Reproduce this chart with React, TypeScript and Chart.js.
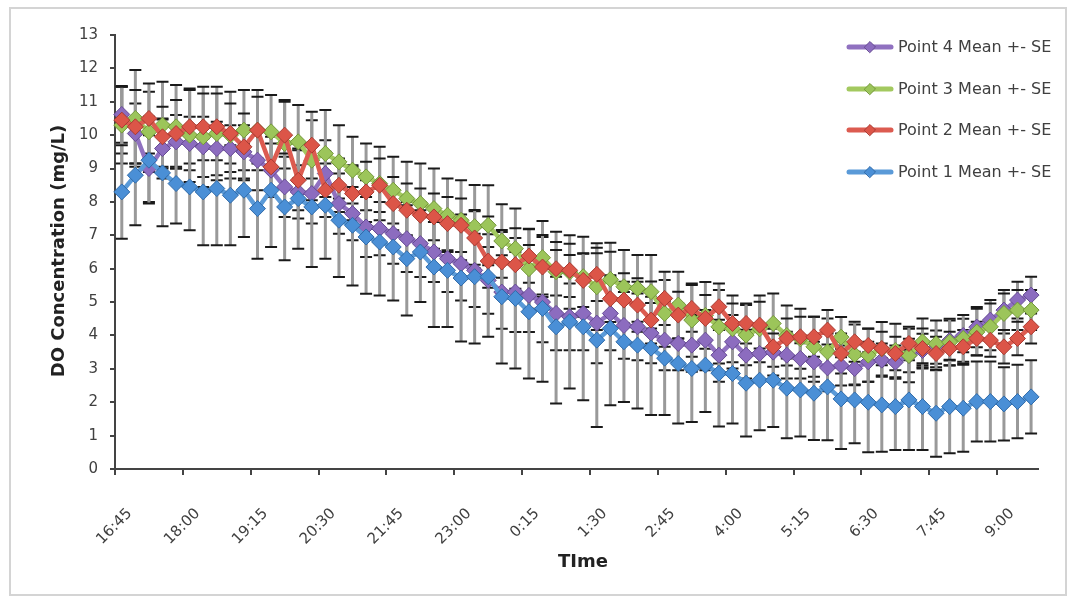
import React, { useEffect, useRef } from "react";
import { Chart, registerables } from "chart.js";

Chart.register(...registerables);

const timeLabels = [
  "16:45", "17:00", "17:15", "17:30", "17:45", "18:00", "18:15", "18:30", "18:45", "19:00",
  "19:15", "19:30", "19:45", "20:00", "20:15", "20:30", "20:45", "21:00", "21:15", "21:30",
  "21:45", "22:00", "22:15", "22:30", "22:45", "23:00", "23:15", "23:30", "23:45", "0:00",
  "0:15", "0:30", "0:45", "1:00", "1:15", "1:30", "1:45", "2:00", "2:15", "2:30",
  "2:45", "3:00", "3:15", "3:30", "3:45", "4:00", "4:15", "4:30", "4:45", "5:00",
  "5:15", "5:30", "5:45", "6:00", "6:15", "6:30", "6:45", "7:00", "7:15", "7:30",
  "7:45", "8:00", "8:15", "8:30", "8:45", "9:00", "9:15", "9:30",
];

const point1Mean = [
  8.3, 8.8, 9.25, 8.87, 8.55, 8.45, 8.3, 8.4, 8.2, 8.35,
  7.8, 8.35, 7.85, 8.1, 7.85, 7.9, 7.45, 7.3, 6.95, 6.8,
  6.65, 6.3, 6.5, 6.05, 5.95, 5.72, 5.76, 5.76, 5.16, 5.11,
  4.71, 4.81, 4.26, 4.41, 4.26, 3.86, 4.21, 3.81, 3.71, 3.62,
  3.32, 3.16, 3.01, 3.11, 2.87, 2.86, 2.57, 2.66, 2.66, 2.42,
  2.37, 2.27, 2.46, 2.1, 2.07, 2.0, 1.92, 1.87, 2.07, 1.87,
  1.67, 1.87, 1.82, 2.02, 2.02, 1.95, 2.02, 2.16,
];
const point1SE = [
  1.4, 1.5, 1.3, 1.6, 1.2, 1.3, 1.6, 1.7, 1.5, 1.4,
  1.5, 1.7, 1.6, 1.5, 1.8, 1.6, 1.7, 1.8, 1.7, 1.6,
  1.6, 1.7, 1.5, 1.8, 1.7, 1.9, 2.0, 1.8, 2.0, 2.1,
  2.0, 2.2, 2.3, 2.0, 2.2, 2.6, 2.3, 1.8, 1.9, 2.0,
  1.7, 1.8, 1.6, 1.4, 1.6, 1.5, 1.6, 1.5, 1.4, 1.5,
  1.4, 1.4, 1.6, 1.5, 1.3, 1.5, 1.4, 1.3, 1.5, 1.3,
  1.3, 1.4, 1.3, 1.2, 1.2, 1.1, 1.1, 1.1,
];

const point2Mean = [
  10.45, 10.25, 10.5, 9.95, 10.05, 10.25, 10.25, 10.25, 10.05, 9.65,
  10.15, 9.05, 10.0, 8.65, 9.7, 8.35, 8.5, 8.25, 8.3, 8.5,
  7.95, 7.75, 7.6, 7.55, 7.35, 7.3, 6.92, 6.23, 6.2, 6.12,
  6.38, 6.05, 6.0, 5.95, 5.65, 5.83, 5.1, 5.06, 4.91, 4.46,
  5.11, 4.61, 4.81, 4.51, 4.86, 4.36, 4.36, 4.31, 3.66, 3.91,
  3.96, 3.96, 4.16, 3.46, 3.81, 3.7, 3.61, 3.46, 3.76, 3.61,
  3.46, 3.61, 3.66, 3.91, 3.86, 3.66, 3.91, 4.26,
];
const point2SE = [
  1.0, 1.1, 1.05, 0.9, 1.0, 1.1, 1.0, 1.0, 0.9, 1.0,
  1.0, 0.9, 1.0, 0.9, 1.0, 0.8, 0.8, 0.8, 0.9, 0.8,
  0.8, 0.8, 0.8, 0.7, 0.8, 0.8, 0.8, 0.8, 0.9, 0.8,
  0.8, 0.9, 0.8, 0.8, 0.8, 0.8, 0.7, 0.8, 0.8, 0.7,
  0.8, 0.7, 0.7, 0.7, 0.7, 0.6, 0.6, 0.7, 0.6, 0.6,
  0.6, 0.6, 0.6, 0.6, 0.6, 0.5, 0.5, 0.5, 0.5, 0.6,
  0.5, 0.5, 0.5, 0.5, 0.5, 0.5, 0.5, 0.5,
];

const point3Mean = [
  10.3, 10.5, 10.1, 10.3, 10.25, 10.0, 9.95, 10.05, 10.0, 10.15,
  10.15, 10.1, 9.75, 9.8, 9.25, 9.45, 9.2, 8.95, 8.75, 8.55,
  8.35, 8.1, 7.95, 7.8, 7.6, 7.45, 7.26, 7.3, 6.83, 6.6,
  6.0, 6.33, 5.91, 5.9, 5.76, 5.46, 5.68, 5.46, 5.41, 5.31,
  4.66, 4.91, 4.46, 4.6, 4.26, 4.2, 4.01, 4.2, 4.36, 4.0,
  3.9, 3.66, 3.51, 3.95, 3.43, 3.41, 3.6, 3.55, 3.4, 3.81,
  3.75, 3.8, 3.91, 4.1, 4.26, 4.66, 4.76, 4.76,
];
const point3SE = [
  1.15, 1.45, 1.2, 1.3, 1.25, 1.4, 1.5, 1.4, 1.3, 1.2,
  1.2, 1.1, 1.3, 1.1, 1.2, 1.3, 1.1, 1.0, 1.0, 1.1,
  1.0, 1.1, 1.2, 1.2, 1.1, 1.2, 1.25, 1.2, 1.1, 1.2,
  1.2, 1.1, 1.2, 1.1, 1.2, 1.3, 1.1, 1.1, 1.0, 1.1,
  1.0, 1.0, 1.1, 1.0, 1.1, 1.0, 0.9, 1.0, 0.9, 0.9,
  0.9, 0.9, 1.0, 0.6, 0.9, 0.8, 0.8, 0.8, 0.8, 0.7,
  0.7, 0.7, 0.7, 0.7, 0.7, 0.6, 0.6, 0.6,
];

const point4Mean = [
  10.62, 10.05, 9.0, 9.6, 9.8, 9.75, 9.65, 9.6, 9.6, 9.5,
  9.25, 8.95, 8.45, 8.3, 8.25, 8.85, 7.95, 7.65, 7.25, 7.2,
  7.05, 6.9, 6.75, 6.5, 6.3, 6.15, 5.95, 5.65, 5.3, 5.3,
  5.2, 5.0, 4.66, 4.56, 4.66, 4.37, 4.66, 4.3, 4.26, 4.07,
  3.86, 3.76, 3.71, 3.86, 3.41, 3.81, 3.41, 3.46, 3.5, 3.41,
  3.31, 3.21, 3.03, 3.1, 3.01, 3.21, 3.26, 3.2, 3.4, 3.55,
  3.65, 3.85, 4.0, 4.25, 4.46, 4.76, 5.06, 5.21,
];
const point4SE = [
  0.85, 0.9, 1.0, 0.9, 0.8, 0.8, 0.9, 0.8, 0.7, 0.8,
  0.9, 0.8, 0.9, 0.8, 0.9, 1.0, 0.9, 0.8, 0.9, 0.8,
  0.9, 1.0, 1.0, 0.9, 1.0, 1.1, 1.1, 1.0, 1.1, 1.2,
  1.1, 1.2, 1.1, 1.0, 1.1, 1.2, 1.1, 1.0, 1.0, 0.9,
  0.9, 0.8, 0.8, 0.9, 0.8, 0.8, 0.7, 0.8, 0.7, 0.7,
  0.6, 0.6, 0.7, 0.6, 0.5, 0.6, 0.5, 0.5, 0.5, 0.5,
  0.5, 0.6, 0.5, 0.6, 0.6, 0.6, 0.55, 0.55,
];

const seriesNames = [
  "Point 1 Mean +- SE",
  "Point 2 Mean +- SE",
  "Point 3 Mean +- SE",
  "Point 4 Mean +- SE",
];
const yTicks = [0, 1, 2, 3, 4, 5, 6, 7, 8, 9, 10, 11, 12, 13];
const xTitle = "TIme";
const yTitle = "DO Concentration (mg/L)";

const W = 1074;
const H = 601;

export default function App() {
  const ref = useRef<HTMLCanvasElement>(null);

  useEffect(() => {
    if (!ref.current) return;
    const styles = [
      { line: "#5a9ad8", fill: "#4a8fd6", border: "#2f6aa8" },
      { line: "#dc5b50", fill: "#dc5548", border: "#a83a31" },
      { line: "#a3c95f", fill: "#9cc55a", border: "#73973a" },
      { line: "#9071c0", fill: "#8c6cbf", border: "#654a93" },
    ];
    const means = [point1Mean, point2Mean, point3Mean, point4Mean];
    const ses = [point1SE, point2SE, point3SE, point4SE];

    const errorBars = {
      id: "errorBars",
      beforeDatasetsDraw(chart: any) {
        const ctx = chart.ctx;
        const ys = chart.scales.y;
        ctx.save();
        for (let d = chart.data.datasets.length - 1; d >= 0; d--) {
          const meta = chart.getDatasetMeta(d);
          const vals = means[d];
          const se = ses[d];
          meta.data.forEach((pt: any, i: number) => {
            const x = pt.x;
            const top = ys.getPixelForValue(vals[i] + se[i]);
            const bot = ys.getPixelForValue(Math.max(0, vals[i] - se[i]));
            ctx.strokeStyle = "#999999";
            ctx.lineWidth = 3;
            ctx.beginPath();
            ctx.moveTo(x, top);
            ctx.lineTo(x, bot);
            ctx.stroke();
            ctx.strokeStyle = "#1a1a1a";
            ctx.lineWidth = 2;
            ctx.beginPath();
            ctx.moveTo(x - 6, top);
            ctx.lineTo(x + 6, top);
            ctx.moveTo(x - 6, bot);
            ctx.lineTo(x + 6, bot);
            ctx.stroke();
          });
        }
        ctx.restore();
      },
    };

    const decor = {
      id: "decor",
      afterDraw(chart: any) {
        const ctx = chart.ctx;
        ctx.save();
        ctx.fillStyle = "#222";
        ctx.font = "bold 18px 'DejaVu Sans'";
        ctx.textAlign = "center";
        ctx.textBaseline = "middle";
        ctx.fillText(xTitle, 583, 562);
        ctx.translate(59, 251);
        ctx.rotate(-Math.PI / 2);
        ctx.fillText(yTitle, 0, 0);
        ctx.restore();

        ctx.save();
        const ys = [47, 89, 130, 172];
        for (let k = 0; k < 4; k++) {
          const s = 3 - k;
          const y = ys[k];
          ctx.strokeStyle = styles[s].line;
          ctx.lineWidth = 5;
          ctx.lineCap = "round";
          ctx.beginPath();
          ctx.moveTo(849, y);
          ctx.lineTo(891, y);
          ctx.stroke();
          ctx.fillStyle = styles[s].fill;
          ctx.strokeStyle = styles[s].border;
          ctx.lineWidth = 1;
          ctx.beginPath();
          ctx.moveTo(870 - 5.5, y);
          ctx.lineTo(870, y - 5.5);
          ctx.lineTo(870 + 5.5, y);
          ctx.lineTo(870, y + 5.5);
          ctx.closePath();
          ctx.fill();
          ctx.stroke();
          ctx.fillStyle = "#404040";
          ctx.font = "16px 'DejaVu Sans'";
          ctx.textAlign = "left";
          ctx.textBaseline = "middle";
          ctx.fillText(seriesNames[s], 898, y + 1);
        }
        ctx.restore();
      },
    };

    const chart = new Chart(ref.current, {
      type: "line",
      data: {
        labels: timeLabels,
        datasets: means.map((m, i) => ({
          label: seriesNames[i],
          data: m,
          borderColor: styles[i].line,
          backgroundColor: styles[i].fill,
          pointBackgroundColor: styles[i].fill,
          pointBorderColor: styles[i].border,
          pointBorderWidth: 1,
          pointStyle: "rectRot",
          pointRadius: 8,
          borderWidth: 4.5,
          tension: 0,
          fill: false,
        })),
      },
      options: {
        responsive: false,
        animation: false,
        devicePixelRatio: 1,
        layout: { padding: { left: 0, right: 26, top: 35, bottom: 0 } },
        plugins: { legend: { display: false }, tooltip: { enabled: false } },
        scales: {
          x: {
            type: "category",
            offset: true,
            grid: {
              offset: true,
              drawOnChartArea: false,
              drawTicks: true,
              tickLength: 6,
              lineWidth: 2,
              color: (c: any) => (c.index % 5 === 0 ? "#444" : "rgba(0,0,0,0)"),
            },
            border: { color: "#444", width: 2 },
            ticks: {
              autoSkip: false,
              maxRotation: 45,
              minRotation: 45,
              padding: 30,
              labelOffset: 8,
              color: "#404040",
              font: { family: "'DejaVu Sans'", size: 15 },
              callback: (_v: any, i: number) => (i % 5 === 0 ? timeLabels[i] : ""),
            },
            afterFit: (s: any) => {
              s.height = 132;
            },
          },
          y: {
            min: 0,
            max: 13,
            afterBuildTicks: (s: any) => {
              s.ticks = yTicks.map((v) => ({ value: v }));
            },
            grid: {
              drawOnChartArea: false,
              drawTicks: true,
              tickLength: 5,
              lineWidth: 2,
              color: "#444",
            },
            border: { color: "#444", width: 2 },
            ticks: {
              padding: 12,
              color: "#404040",
              font: { family: "'DejaVu Sans'", size: 15 },
            },
            afterFit: (s: any) => {
              s.width = 115;
            },
          },
        },
      },
      plugins: [errorBars, decor],
    } as any);
    return () => chart.destroy();
  }, []);

  return (
    <div
      style={{
        position: "fixed",
        left: 0,
        top: 0,
        width: W,
        height: H,
        background: "#fff",
      }}
    >
      <div
        style={{
          position: "absolute",
          left: 9,
          top: 7,
          width: 1058,
          height: 589,
          border: "2px solid #d4d4d4",
          boxSizing: "border-box",
        }}
      />
      <canvas
        ref={ref}
        width={W}
        height={H}
        style={{ position: "absolute", left: 0, top: 0, width: W, height: H }}
      />
    </div>
  );
}
